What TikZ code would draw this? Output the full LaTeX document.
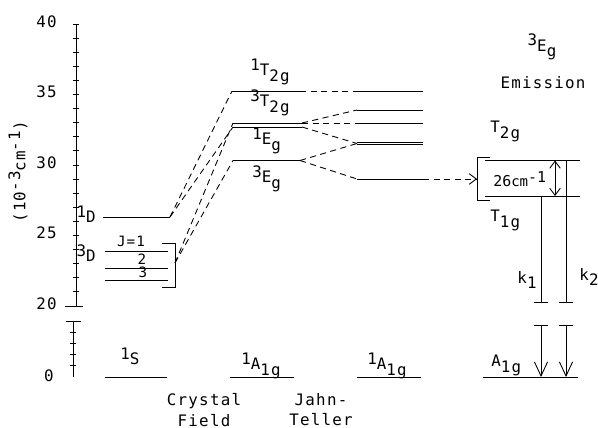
\documentclass[tikz,border=0pt]{standalone}
\usepackage{fontspec}
\setmainfont{DejaVu Sans Mono}[LetterSpace=8]
\usetikzlibrary{arrows.meta}
\newcommand{\up}[1]{\raisebox{0.6ex}{#1}}
\newcommand{\dn}[1]{\raisebox{-0.6ex}{#1}}

\begin{document}
\begin{tikzpicture}[x=0.02cm,y=-0.02cm,line width=0.5pt,
  font=\fontsize{9}{11.5}\selectfont,
  >={Straight Barb[length=4pt,width=6pt]},
  dsh/.style={dash pattern=on 3.5pt off 2.5pt},
  bigtip/.style={-{Straight Barb[length=8pt,width=7.5pt]}}]
\useasboundingbox (0,0) rectangle (598,428);

% energy axis
\draw (76,24) -- (76,306);
\draw (65,306) -- (83,306);
\foreach \i in {0,...,19} \draw (73,24+14.1*\i) -- (79,24+14.1*\i);
\draw (73,321) -- (73,377);
\draw (66,321) -- (81,321);
\foreach \i in {1,...,4} \draw (70,321+11.2*\i) -- (76,321+11.2*\i);
\node[anchor=east] (t40) at (63,22) {40};
\node[anchor=east] (t35) at (63,92) {35};
\node[anchor=east] (t30) at (63,163) {30};
\node[anchor=east] (t25) at (63,233) {25};
\node[anchor=east] (t20) at (63,304) {20};
\node[anchor=east] (t0) at (60,376) {0};
\node[rotate=90] (unit) at (18,172) {(10\up{-3}{\small cm}\up{-1})};

% free ion
\coordinate (sl) at (105,377); \coordinate (sr) at (167,377);
\draw (sl) -- (sr);
\node[anchor=base west] (s1) at (114,365) {\up{1}S};
\coordinate (dl) at (103,217); \coordinate (dr) at (170,217);
\draw (dl) -- (dr);
\node[anchor=base east] (d1) at (102,223) {\up{1}D};
\foreach \y in {251,268,280} \draw (105,\y) -- (168,\y);
\draw (162,243) -- (175,243) -- (175,287) -- (162,287);
\coordinate (tD) at (175,263);
\node[anchor=base east] (d3) at (102,262) {\up{3}D};
\node[anchor=base,scale=0.9] (jone) at (131,247) {J=1};
\node[anchor=base,scale=0.9] (jtwo) at (142,265) {2};
\node[anchor=base,scale=0.9] (jthree) at (143,278) {3};

% crystal field
\coordinate (al) at (232,91); \coordinate (ar) at (300,91);
\coordinate (bl) at (233,123); \coordinate (br) at (302,123);
\coordinate (cl) at (233,127); \coordinate (cr) at (302,127);
\coordinate (el) at (233,160.5); \coordinate (er) at (300,160.5);
\coordinate (gl) at (230,377); \coordinate (gr) at (294,377);
\draw (al) -- (ar);
\draw (bl) -- (br);
\draw (cl) -- (cr);
\draw (el) -- (er);
\draw (gl) -- (gr);
\draw[dsh] (dr) -- (al);
\draw[dsh] (dr) -- (cl);
\draw[dsh] (tD) -- (bl);
\draw[dsh] (tD) -- (el);
\node[anchor=base west] (cf1) at (244,76) {\up{1}T\dn{2g}};
\node[anchor=base west] (cf2) at (244,107) {\up{3}T\dn{2g}};
\node[anchor=base west] (cf3) at (246,145) {\up{1}E\dn{g}};
\node[anchor=base west] (cf4) at (246,183) {\up{3}E\dn{g}};
\node[anchor=base west] (cf5) at (235,370) {\up{1}A\dn{1g}};
\node[align=center] (cryst) at (204,410) {Crystal\\Field};

% Jahn-Teller
\coordinate (jal) at (357,91); \coordinate (jar) at (423,91);
\coordinate (jbl) at (357,110); \coordinate (jbr) at (423,110);
\coordinate (jcl) at (357,123); \coordinate (jcr) at (423,123);
\coordinate (jdl) at (357,143.5); \coordinate (jdr) at (423,143.5);
\coordinate (jel) at (357,179); \coordinate (jer) at (423,179);
\coordinate (jgl) at (357,377); \coordinate (jgr) at (421,377);
\draw (jal) -- (jar);
\draw (jbl) -- (jbr);
\draw (jcl) -- (jcr);
\draw (357,142.5) -- (423,142.5);
\draw (357,144.5) -- (423,144.5);
\draw (jel) -- (jer);
\draw (jgl) -- (jgr);
\draw[dsh] (ar) -- (jal);
\draw[dsh] (br) -- (jbl);
\draw[dsh] (br) -- (jcl);
\draw[dsh] (cr) -- (jdl);
\draw[dsh] (er) -- (jdl);
\draw[dsh] (er) -- (jel);
\node[anchor=base west] (jt1) at (361,370) {\up{1}A\dn{1g}};
\node[align=center] (jahn) at (321,410) {Jahn-\\Teller};

% emission
\coordinate (tl) at (485,160.5); \coordinate (tr) at (580,160.5);
\coordinate (ul) at (485,196); \coordinate (ur) at (580,196);
\coordinate (al1) at (483,377); \coordinate (ar1) at (578,377);
\draw (tl) -- (tr);
\draw (ul) -- (ur);
\draw (al1) -- (ar1);
\draw (490,157) -- (477,157) -- (477,200.5) -- (490,200.5);
\coordinate (em) at (477,179);
\draw[dsh,->] (jer) -- (em);
\coordinate (sp2) at (555,160.5); \coordinate (sp1) at (555,196);
\draw[<->] (sp2) -- (sp1);
\coordinate (ka) at (541,196); \coordinate (kb) at (541,302);
\coordinate (kc) at (541,325); \coordinate (kd) at (541,377);
\coordinate (la) at (566,160.5); \coordinate (lb) at (566,302);
\coordinate (lc) at (566,325); \coordinate (ld) at (566,377);
\draw (ka) -- (kb);
\draw (la) -- (lb);
\draw[bigtip] (kc) -- (kd);
\draw[bigtip] (lc) -- (ld);
\foreach \x in {541,566} {
  \draw (\x-7,302) -- (\x+7,302);
  \draw (\x-7,325) -- (\x+7,325);
}
\node (eg) at (542,47) {\up{3}E\dn{g}};
\node (emis) at (543,83) {Emission};
\node[anchor=base west] (t2g) at (484,133) {T\dn{2g}};
\node[anchor=base west] (t1g) at (484,222) {T\dn{1g}};
\node[anchor=base west,font=\fontsize{8.5}{10}\selectfont\addfontfeature{LetterSpace=0}] (gap) at (487,187) {26{\footnotesize cm}\up{-1}};
\node (k1) at (527,280) {k\dn{1}};
\node (k2) at (589,277) {k\dn{2}};
\node[anchor=base west] (a1g) at (485,367) {A\dn{1g}};
\end{tikzpicture}
\end{document}
